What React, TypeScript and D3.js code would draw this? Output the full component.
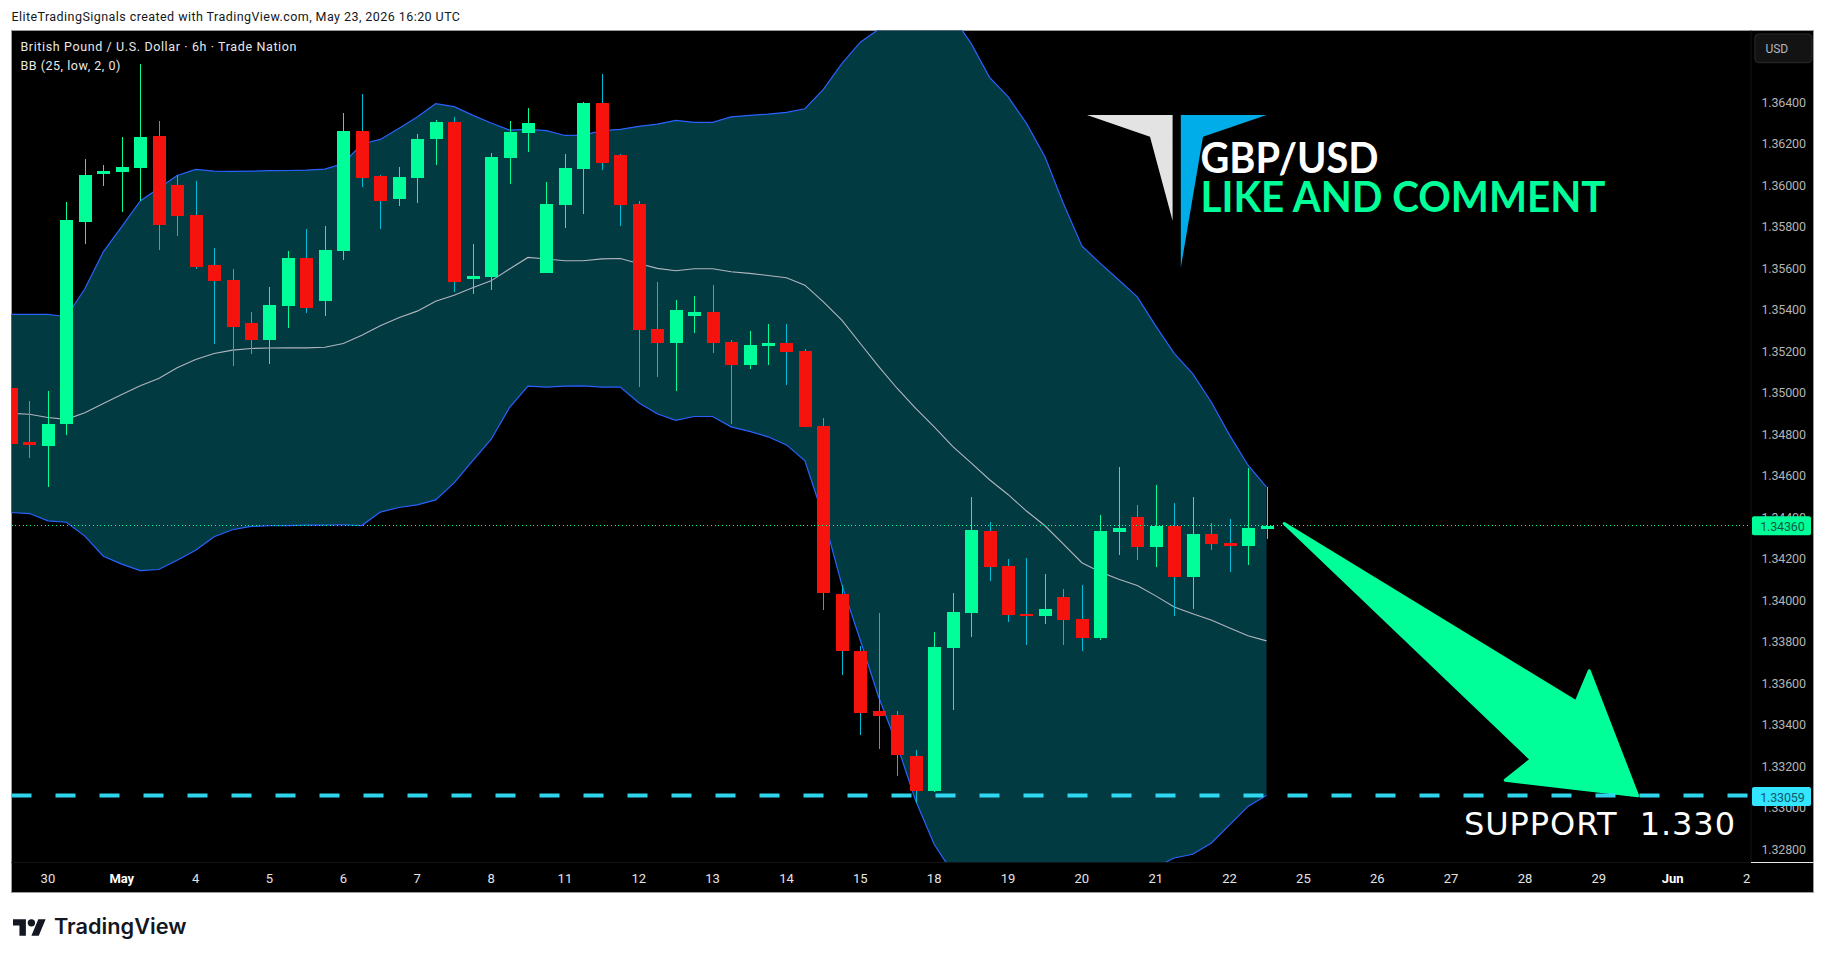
import React from "react";
import * as d3 from "d3";

const WIDTH = 1825;
const HEIGHT = 959;

const opens = [1.35024,1.34764,1.34746,1.3485,1.35826,1.36056,1.36065,1.36085,1.36239,1.36003,1.35858,1.35617,1.35545,1.35337,1.35255,1.35419,1.35651,1.35443,1.35684,1.36263,1.36046,1.35935,1.36037,1.36225,1.36307,1.35549,1.35559,1.36133,1.36254,1.35578,1.35906,1.3608,1.36398,1.36147,1.35911,1.35308,1.35241,1.35371,1.3539,1.35246,1.35135,1.35226,1.35241,1.35202,1.3484,1.34031,1.33757,1.33468,1.33449,1.33251,1.33082,1.33771,1.3394,1.34335,1.34166,1.33933,1.33926,1.34016,1.33911,1.33819,1.3433,1.34403,1.34258,1.3436,1.34114,1.34321,1.34278,1.34262,1.34344];
const highs = [1.35024,1.34961,1.35009,1.35921,1.36128,1.36099,1.36234,1.36586,1.36311,1.36051,1.36022,1.35699,1.35598,1.3539,1.35511,1.35684,1.35791,1.35805,1.3635,1.36442,1.36051,1.3609,1.36249,1.36316,1.36331,1.35718,1.36157,1.36311,1.36374,1.36017,1.36152,1.36403,1.36538,1.36152,1.35926,1.35535,1.35448,1.35467,1.3552,1.35255,1.35299,1.35332,1.35332,1.35212,1.3488,1.34073,1.33781,1.3394,1.33468,1.33279,1.33849,1.34036,1.34499,1.34378,1.34198,1.34205,1.34128,1.34055,1.34075,1.34411,1.34643,1.3446,1.34558,1.3447,1.34499,1.34374,1.34394,1.34639,1.34547];
const lows = [1.34755,1.34688,1.34548,1.34799,1.35718,1.35999,1.35872,1.35924,1.35689,1.35757,1.35598,1.35236,1.3513,1.35188,1.35139,1.35313,1.35385,1.35371,1.35641,1.35993,1.35791,1.35901,1.35916,1.36099,1.35487,1.35477,1.35496,1.36008,1.36162,1.35578,1.35795,1.35863,1.36075,1.35805,1.35027,1.35077,1.35009,1.35289,1.35192,1.3485,1.35115,1.35135,1.35038,1.34836,1.33954,1.33641,1.33352,1.33285,1.33155,1.33025,1.33077,1.33472,1.33824,1.34095,1.33897,1.33785,1.33886,1.33785,1.33757,1.3381,1.34219,1.34196,1.34162,1.33926,1.33959,1.34244,1.34137,1.34171,1.34296];
const closes = [1.34755,1.34749,1.34853,1.35834,1.36051,1.3607,1.3609,1.36234,1.3581,1.35853,1.35607,1.3554,1.35318,1.35255,1.35424,1.35651,1.3541,1.35689,1.36263,1.36037,1.35926,1.36041,1.36225,1.36307,1.35535,1.35564,1.36138,1.36258,1.36302,1.35911,1.36085,1.36398,1.36109,1.35906,1.35305,1.35241,1.354,1.3539,1.35241,1.35135,1.35231,1.35241,1.35197,1.34836,1.34036,1.33757,1.33457,1.33443,1.33255,1.33082,1.33776,1.33945,1.3434,1.34162,1.33931,1.33926,1.33959,1.33906,1.33819,1.34335,1.34349,1.34258,1.3436,1.34114,1.34321,1.34273,1.34262,1.34349,1.3436];

const bbUpper = [1.35379,1.35379,1.35379,1.35368,1.35503,1.35681,1.35802,1.35926,1.35987,1.36049,1.36078,1.3607,1.36069,1.3607,1.36072,1.36073,1.36075,1.3608,1.36107,1.36201,1.36223,1.36276,1.36331,1.36395,1.36381,1.3634,1.36302,1.36268,1.36271,1.36265,1.36242,1.36244,1.36265,1.36271,1.36286,1.36297,1.36315,1.36305,1.36305,1.36332,1.36339,1.36345,1.36353,1.36371,1.36464,1.36588,1.36692,1.36754,1.36807,1.36831,1.36831,1.36815,1.36686,1.36522,1.36429,1.363,1.36139,1.35914,1.35709,1.35625,1.35545,1.35464,1.35324,1.35191,1.35094,1.34958,1.34797,1.34652,1.34546];
const bbBasis = [1.34902,1.34898,1.34882,1.34873,1.34905,1.3495,1.34993,1.35035,1.3507,1.35122,1.35162,1.35191,1.35207,1.35215,1.35217,1.35218,1.35218,1.35221,1.35239,1.35279,1.35324,1.35363,1.35395,1.35443,1.35472,1.35508,1.35541,1.35598,1.35654,1.35646,1.35638,1.35638,1.35647,1.35649,1.35625,1.35601,1.3559,1.35599,1.35599,1.35585,1.35577,1.35567,1.35556,1.3552,1.3544,1.35352,1.35239,1.35127,1.35022,1.34926,1.34837,1.34743,1.34663,1.34582,1.34511,1.34431,1.3436,1.34271,1.34182,1.34137,1.34102,1.34072,1.34022,1.33968,1.33936,1.33906,1.33867,1.3383,1.33805];
const bbLower = [1.34424,1.34419,1.34384,1.34377,1.3431,1.34213,1.34175,1.34144,1.34149,1.34194,1.34242,1.34307,1.34341,1.34357,1.3436,1.34361,1.34363,1.34363,1.34365,1.34361,1.34426,1.34448,1.34461,1.34485,1.34567,1.34673,1.34776,1.3493,1.35033,1.35029,1.35033,1.35035,1.35029,1.35029,1.34953,1.349,1.34868,1.34887,1.34887,1.34837,1.34815,1.34789,1.3475,1.34673,1.34404,1.34075,1.33808,1.33532,1.33301,1.33034,1.32824,1.32687,1.32571,1.325,1.32446,1.32429,1.32429,1.32446,1.325,1.32571,1.32642,1.32678,1.32713,1.32758,1.32776,1.32829,1.32918,1.33007,1.33061];

const priceTicks = [1.364,1.362,1.36,1.358,1.356,1.354,1.352,1.35,1.348,1.346,1.344,1.342,1.34,1.338,1.336,1.334,1.332,1.33,1.328];
const dayLabels = ["30","May","4","5","6","7","8","11","12","13","14","15","18","19","20","21","22","25","26","27","28","29","Jun","2"];
const boldDays = ["May","Jun"];

const lastPrice = 1.3436;
const supportPrice = 1.33059;

const arrowIdx = [68.96,84.77,85.48,88.1,80.93,82.34];
const arrowPrice = [1.34371,1.33511,1.33661,1.33058,1.33133,1.33233];

const GREEN = "#00ff99";
const RED = "#f7130d";
const WICK_RED = "#00bcd4";
const BAND = "#023a42";
const BLUE = "#2962ff";
const CYAN = "#33e5ff";
const FONT = "Roboto, sans-serif";

const L = 11.5, R = 1813.5, T = 30.5, B = 892.5, PR = 1751, PB = 862;

export default function App() {
  const x = d3.scaleLinear().domain([0, 68]).range([11, 1266.5]);
  const y = d3.scaleLinear().domain([1.364, 1.328]).range([102.7, 849.3]);
  const idx = d3.range(opens.length);

  const area = d3.area<number>().x((i) => x(i)).y0((i) => y(bbLower[i])).y1((i) => y(bbUpper[i]));
  const lineOf = (s: number[]) => d3.line<number>().x((i) => x(i)).y((i) => y(s[i]))(idx) as string;
  const arrow = d3.line<number>().x((i) => x(arrowIdx[i])).y((i) => y(arrowPrice[i])).curve(d3.curveLinearClosed)(d3.range(arrowIdx.length)) as string;
  const lastY = Math.round(y(lastPrice)) - 0.5;

  return (
    <svg width={WIDTH} height={HEIGHT} style={{ position: "absolute", left: 0, top: 0, display: "block", background: "#fff" }}>
      <defs>
        <clipPath id="pane"><rect x={L} y={T} width={PR - L} height={PB - T} /></clipPath>
      </defs>
      <text x={11.4} y={21} fontFamily={FONT} fontSize={12.5} fill="#131722" textLength={448.6} lengthAdjust="spacing">
        EliteTradingSignals created with TradingView.com, May 23, 2026 16:20 UTC
      </text>
      <rect x={L} y={T} width={R - L} height={B - T} fill="#000" stroke="#9a9a9a" strokeWidth={1} />
      <g clipPath="url(#pane)">
        <path d={area(idx) as string} fill={BAND} />
        <path d={lineOf(bbUpper)} fill="none" stroke={BLUE} strokeWidth={1.2} />
        <path d={lineOf(bbLower)} fill="none" stroke={BLUE} strokeWidth={1.2} />
        <path d={lineOf(bbBasis)} fill="none" stroke="#b2b5be" strokeWidth={1.1} />
        {idx.map((i) => {
          const up = closes[i] >= opens[i];
          const cx = Math.round(x(i));
          const top = y(Math.max(opens[i], closes[i]));
          const bot = y(Math.min(opens[i], closes[i]));
          return (
            <g key={i} shapeRendering="crispEdges">
              <line x1={cx + 0.5} x2={cx + 0.5} y1={y(highs[i])} y2={y(lows[i])} stroke={up ? GREEN : WICK_RED} strokeWidth={1} />
              <rect x={cx - 6} y={top} width={13} height={Math.max(bot - top, 1.5)} fill={up ? GREEN : RED} />
            </g>
          );
        })}
        <line x1={L} x2={PR} y1={lastY} y2={lastY} stroke={GREEN} strokeWidth={1} strokeDasharray="1 2.7" shapeRendering="crispEdges" />
        <path d={arrow} fill={GREEN} stroke={GREEN} strokeWidth={3} strokeLinejoin="round" />
        <line x1={L} x2={PR} y1={y(supportPrice)} y2={y(supportPrice)} stroke={CYAN} strokeOpacity={0.92} strokeWidth={4} strokeDasharray="20 24" />
      </g>

      <polygon points="1087,115 1172.6,115 1172.6,220.7 1150,136.7" fill="#e3e3e3" />
      <polygon points="1180.8,115 1266.5,115 1203,136.7 1180.8,267.7" fill="#00ade8" />
      <text x={1200.5} y={172.7} fontFamily="Lato, sans-serif" fontWeight={700} fontSize={41.5} fill="#fff" textLength={178} lengthAdjust="spacingAndGlyphs">GBP/USD</text>
      <text x={1200.5} y={211.7} fontFamily="Lato, sans-serif" fontWeight={700} fontSize={41.5} fill={GREEN} textLength={405} lengthAdjust="spacingAndGlyphs">LIKE AND COMMENT</text>
      <text x={1464} y={835} fontFamily="'DejaVu Sans', sans-serif" fontSize={32} fill="#fff" xmlSpace="preserve" textLength={271} lengthAdjust="spacing">SUPPORT  1.330</text>

      <text x={20.4} y={51} fontFamily={FONT} fontSize={12.5} fill="#e8e8e8" textLength={276} lengthAdjust="spacing">British Pound / U.S. Dollar · 6h · Trade Nation</text>
      <text x={20.4} y={70} fontFamily={FONT} fontSize={12.5} fill="#e8e8e8" textLength={100} lengthAdjust="spacing">BB (25, low, 2, 0)</text>

      <line x1={PR} x2={PR} y1={T} y2={PB} stroke="#141414" />
      <line x1={L} x2={PR} y1={PB + 0.5} y2={PB + 0.5} stroke="#141414" />
      <line x1={PR} x2={R} y1={PB + 0.5} y2={PB + 0.5} stroke="#e8e8e8" />

      {priceTicks.map((p) => (
        <text key={p} x={1783.7} y={y(p) + 4.3} textAnchor="middle" fontFamily={FONT} fontSize={12.5} fill="#b4b4b4" textLength={44.5} lengthAdjust="spacing">
          {p.toFixed(5)}
        </text>
      ))}

      <rect x={1754.8} y={34} width={57.2} height={28.7} rx={4} fill="#131313" stroke="#2a2a2a" />
      <text x={1765.6} y={53} fontFamily={FONT} fontSize={12} fill="#b2b5be" textLength={22.4} lengthAdjust="spacing">USD</text>

      <rect x={1752} y={y(lastPrice) - 9.5} width={59} height={19} rx={2} fill={GREEN} />
      <text x={1782.5} y={y(lastPrice) + 5} textAnchor="middle" fontFamily={FONT} fontSize={12.5} fill="#0b5a44" textLength={44.5} lengthAdjust="spacing">{lastPrice.toFixed(5)}</text>
      <rect x={1752} y={y(supportPrice) - 8.5} width={59} height={19} rx={2} fill={CYAN} />
      <text x={1782.5} y={y(supportPrice) + 6} textAnchor="middle" fontFamily={FONT} fontSize={12.5} fill="#0d5a6a" textLength={44.5} lengthAdjust="spacing">{supportPrice.toFixed(5)}</text>

      {dayLabels.map((d, k) => {
        const bold = boldDays.includes(d);
        return (
          <text key={d + k} x={x(2 + 4 * k)} y={883} textAnchor="middle" fontFamily={FONT} fontSize={13} fontWeight={bold ? 700 : 400} fill={bold ? "#fff" : "#e4e4e4"}>
            {d}
          </text>
        );
      })}

      <g transform="translate(13,915.5) scale(0.92)" fill="#131722">
        <path d="M14 22H7V11H0V4h14v18zM28 22h-8l7.5-18h8L28 22z" />
        <circle cx={20} cy={8} r={4} />
      </g>
      <text x={54} y={933.5} fontFamily="Inter, sans-serif" fontWeight={600} fontSize={21} fill="#131722" textLength={132.5} lengthAdjust="spacingAndGlyphs">TradingView</text>
    </svg>
  );
}
